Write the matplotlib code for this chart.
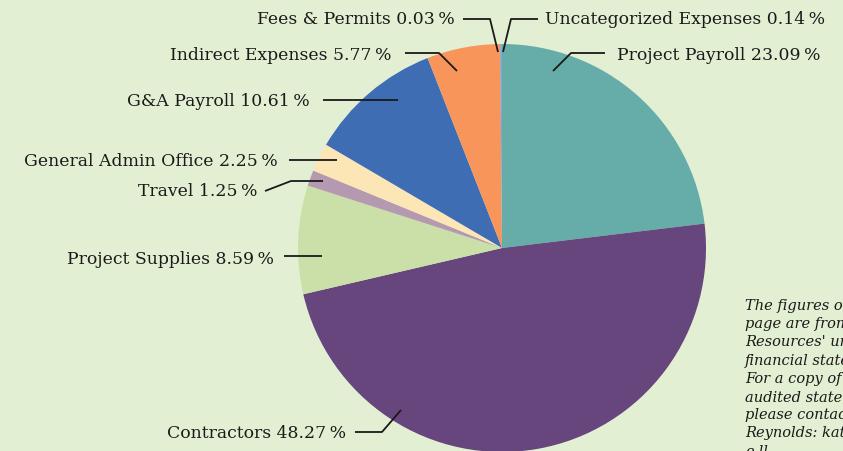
import matplotlib
matplotlib.use("Agg")
import matplotlib.pyplot as plt

# ---- data (clockwise from 12 o'clock) ----
categories = ["Project Payroll", "Contractors", "Project Supplies", "Travel",
              "General Admin Office", "G&A Payroll", "Indirect Expenses",
              "Fees & Permits", "Uncategorized Expenses"]
percentages = [23.09, 48.27, 8.59, 1.25, 2.25, 10.61, 5.77, 0.03, 0.14]
colors = ["#66ada9", "#66467d", "#cbe0a8", "#b499b0", "#fde6b6",
          "#3f6db4", "#f7955a", "#d9534f", "#7fa6d6"]

note_lines = ["The figures on this", "page are from", "Resources' unaudited",
              "financial statements.", "For a copy of the",
              "audited statements,", "please contact Kate",
              "Reynolds: kate@", "e-ll"]

# ---- layout (pixel coords, y measured from top) ----
W, H = 843, 451
CX, CY, R = 502, 248, 204
# label: (text x, text y, ha, leader-line points)
layout = {
    "Fees & Permits": (455, 20, "right", [(463, 19), (490, 19), (498, 52)]),
    "Uncategorized Expenses": (545, 20, "left", [(538, 19), (511, 19), (503, 52)]),
    "Indirect Expenses": (392, 56, "right", [(405, 53), (439, 53), (457, 71)]),
    "Project Payroll": (617, 56, "left", [(605, 53), (571, 53), (553, 71)]),
    "G&A Payroll": (310, 101, "right", [(323, 100), (398, 100)]),
    "General Admin Office": (278, 162, "right", [(289, 160), (337, 160)]),
    "Travel": (257, 192, "right", [(265, 191), (291, 181), (323, 181)]),
    "Project Supplies": (274, 260, "right", [(284, 256), (322, 256)]),
    "Contractors": (346, 434, "right", [(355, 432), (382, 432), (401, 410)]),
}

BG = "#e3efd3"
fig = plt.figure(figsize=(W / 100, H / 100), dpi=100, facecolor=BG)
ax = fig.add_axes([0, 0, 1, 1])
ax.set_facecolor(BG)

def fy(y):
    return H - y

ax.pie(percentages, colors=colors, startangle=90, counterclock=False,
       center=(CX, fy(CY)), radius=R, frame=False,
       wedgeprops=dict(linewidth=0))
ax.set_xlim(0, W)
ax.set_ylim(0, H)
ax.set_aspect("auto")
ax.axis("off")

font = dict(family="DejaVu Serif", size=12.4, color="#1a1a1a")
for cat, pct in zip(categories, percentages):
    tx, ty, ha, pts = layout[cat]
    ax.text(tx, fy(ty), f"{cat} {pct:.2f}\u2009%", ha=ha, va="center", **font)
    xs = [p[0] for p in pts]
    ys = [fy(p[1]) for p in pts]
    ax.plot(xs, ys, color="#1a1a1a", lw=1.3, solid_capstyle="butt")

note_font = dict(family="DejaVu Serif", style="italic", size=10.5,
                 color="#1a1a1a")
for i, line in enumerate(note_lines):
    ax.text(745, fy(306 + i * 18.2), line, ha="left", va="center", **note_font)

fig.savefig("out.png", dpi=100, facecolor=BG)
